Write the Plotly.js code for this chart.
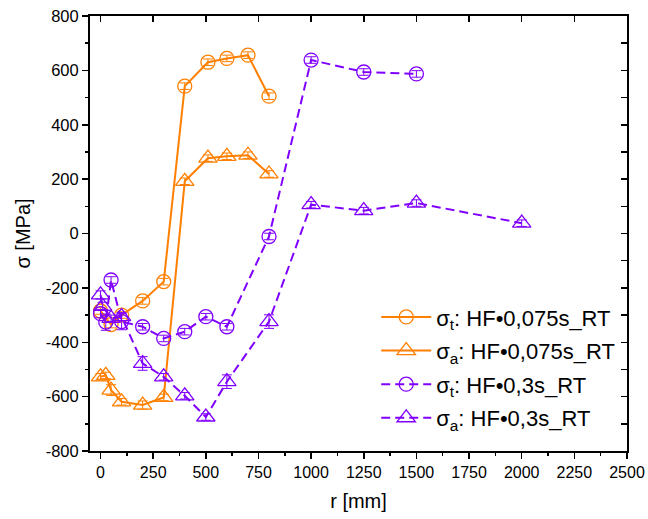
<!DOCTYPE html>
<html>
<head>
<meta charset="utf-8">
<script src="https://cdn.plot.ly/plotly-3.0.1.min.js"></script>
<style>html,body{margin:0;padding:0;background:#fff;}#chart{width:648px;height:519px;}</style>
</head>
<body>
<div id="chart"></div>
<script>
// Series: HF 0,075s RT (orange), HF 0,3s RT (purple)
var r_t075 = [0, 50, 100, 200, 300, 400, 510, 600, 700, 800];
var sig_t075 = [-285, -335, -300, -248, -177, 542, 630, 644, 656, 505];
var err_t075 = [12, 12, 12, 12, 12, 12, 12, 12, 12, 12];

var r_a075 = [0, 25, 50, 100, 200, 300, 400, 510, 600, 700, 800];
var sig_a075 = [-527, -522, -576, -619, -631, -603, 192, 277, 284, 288, 219];
var err_a075 = [12, 12, 20, 12, 15, 12, 12, 12, 12, 12, 12];

var r_t03 = [0, 25, 50, 100, 200, 300, 400, 500, 600, 800, 1000, 1250, 1500];
var sig_t03 = [-295, -326, -171, -324, -343, -386, -361, -306, -343, -11, 638, 594, 587];
var err_t03 = [15, 30, 12, 30, 12, 12, 12, 12, 12, 12, 12, 12, 12];

var r_a03 = [0, 10, 50, 100, 200, 300, 400, 500, 600, 800, 1000, 1250, 1500, 2000];
var sig_a03 = [-226, -268, -312, -306, -478, -527, -597, -675, -545, -324, 106, 84, 112, 38];
var err_a03 = [15, 15, 12, 15, 25, 12, 12, 12, 25, 25, 12, 12, 12, 12];

var yTickVals = [-800, -600, -400, -200, 0, 200, 400, 600, 800];
var yTickText = ["-800", "-600", "-400", "-200", "0", "200", "400", "600", "800"];

var names = [
  "σ<sub>t</sub>: HF•0,075s_RT",
  "σ<sub>a</sub>: HF•0,075s_RT",
  "σ<sub>t</sub>: HF•0,3s_RT",
  "σ<sub>a</sub>: HF•0,3s_RT"
];

var ORANGE = "#FF7F00";
var PURPLE = "#8000FF";

function mk(x, y, e, name, color, sym, size, dash, grp) {
  return {
    x: x, y: y, name: name, type: "scatter", mode: "lines+markers", legendgroup: grp,
    line: {color: color, width: 2, dash: dash},
    marker: {symbol: sym, size: size, color: color, line: {color: color, width: 1.3}},
    error_y: {type: "data", array: e, visible: true, color: color, thickness: 1, width: 5}
  };
}

var traces = [
  mk(r_t075, sig_t075, err_t075, names[0], ORANGE, "circle-open", 14, "solid", "g1"),
  mk(r_a075, sig_a075, err_a075, names[1], ORANGE, "triangle-up-open", 16, "solid", "g2"),
  mk(r_t03, sig_t03, err_t03, names[2], PURPLE, "circle-open", 14, "9px,5px", "g3"),
  mk(r_a03, sig_a03, err_a03, names[3], PURPLE, "triangle-up-open", 16, "9px,5px", "g4")
];

var font = "Liberation Sans, Arial, sans-serif";
var xr = [-50, 2500];
var yr = [-800, 800];

var layout = {
  width: 648, height: 519,
  margin: {l: 90, r: 21, t: 16, b: 68},
  paper_bgcolor: "#fff", plot_bgcolor: "#fff",
  font: {family: font, color: "#000", size: 16},
  showlegend: true,
  legend: {x: 0.533, y: 0.356, xanchor: "left", yanchor: "top",
           font: {family: font, size: 22, color: "#000"},
           bgcolor: "rgba(0,0,0,0)", borderwidth: 0, itemwidth: 50, tracegroupgap: 2},
  xaxis: {
    range: xr, showgrid: false, zeroline: false,
    showline: true, linecolor: "#000", linewidth: 2,
    ticks: "outside", tickwidth: 1.5, ticklen: 6, tickcolor: "#000",
    tick0: 0, dtick: 250,
    minor: {ticks: "outside", dtick: 125, ticklen: 3, tickwidth: 1.5, tickcolor: "#000"},
    tickfont: {size: 16, family: font},
    title: {text: "r [mm]", font: {size: 20, family: font}, standoff: 14}
  },
  yaxis: {
    range: yr, showgrid: false, zeroline: false,
    showline: true, linecolor: "#000", linewidth: 2,
    ticks: "outside", tickwidth: 1.5, ticklen: 6, tickcolor: "#000",
    tickmode: "array", tickvals: yTickVals, ticktext: yTickText,
    minor: {ticks: "outside", dtick: 100, ticklen: 3, tickwidth: 1.5, tickcolor: "#000"},
    tickfont: {size: 16.5, family: font},
    title: {text: "σ [MPa]", font: {size: 20, family: font}, standoff: 10}
  },
  xaxis2: {
    overlaying: "x", side: "top", range: xr, showgrid: false, zeroline: false,
    showline: true, linecolor: "#000", linewidth: 2,
    ticks: "inside", tickwidth: 1.5, ticklen: 6, tickcolor: "#000",
    tick0: 0, dtick: 250, showticklabels: false
  },
  yaxis2: {
    overlaying: "y", side: "right", range: yr, showgrid: false, zeroline: false,
    showline: true, linecolor: "#000", linewidth: 2,
    ticks: "inside", tickwidth: 1.5, ticklen: 6, tickcolor: "#000",
    tick0: 0, dtick: 200, showticklabels: false,
    minor: {ticks: "inside", dtick: 100, ticklen: 6, tickwidth: 1.5, tickcolor: "#000"}
  }
};

// invisible trace to activate the mirror axes
traces.push({x: [xr[0]], y: [yr[0]], xaxis: "x2", yaxis: "y2", type: "scatter", mode: "markers",
             marker: {opacity: 0}, showlegend: false, hoverinfo: "skip"});

Plotly.newPlot("chart", traces, layout, {staticPlot: true, displayModeBar: false});
</script>
</body>
</html>
